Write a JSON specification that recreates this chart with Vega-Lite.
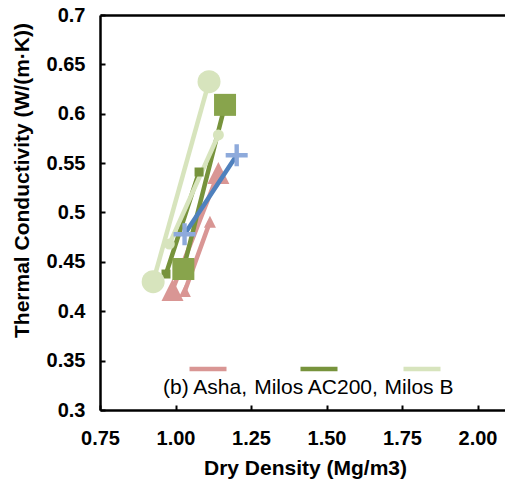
{
  "$schema": "https://vega.github.io/schema/vega-lite/v6.json",
  "width": 405,
  "height": 395,
  "autosize": {"type": "none"},
  "padding": {"left": 100, "top": 15, "right": 0, "bottom": 74},
  "background": "white",
  "config": {
    "view": {"stroke": null},
    "axis": {
      "grid": false,
      "domainColor": "black",
      "domainWidth": 2.5,
      "tickColor": "black",
      "tickWidth": 2,
      "tickSize": -5,
      "labelFont": "Liberation Sans",
      "labelFontWeight": "bold",
      "labelFontSize": 20,
      "labelColor": "black",
      "labelFlush": false,
      "titleFont": "Liberation Sans",
      "titleFontWeight": "bold",
      "titleFontSize": 21,
      "titleColor": "black"
    }
  },
  "data": {
    "values": [
      {"series": "A1", "material": "Asha", "x": 0.990, "y": 0.4215},
      {"series": "A1", "material": "Asha", "x": 1.142, "y": 0.540},
      {"series": "A2", "material": "Asha", "x": 1.031, "y": 0.4205},
      {"series": "A2", "material": "Asha", "x": 1.114, "y": 0.4907},
      {"series": "G1", "material": "Milos AC200", "x": 1.026, "y": 0.4428},
      {"series": "G1", "material": "Milos AC200", "x": 1.164, "y": 0.609},
      {"series": "G2", "material": "Milos AC200", "x": 0.9685, "y": 0.4377},
      {"series": "G2", "material": "Milos AC200", "x": 1.078, "y": 0.541},
      {"series": "B1", "material": "Milos B", "x": 0.926, "y": 0.430},
      {"series": "B1", "material": "Milos B", "x": 1.111, "y": 0.6325},
      {"series": "B2", "material": "Milos B", "x": 0.9795, "y": 0.468},
      {"series": "B2", "material": "Milos B", "x": 1.142, "y": 0.5785},
      {"series": "C1", "material": "Other", "x": 1.030, "y": 0.478},
      {"series": "C1", "material": "Other", "x": 1.2026, "y": 0.558}
    ]
  },
  "layer": [
    {
      "transform": [{"filter": "datum.series != 'C1'"}],
      "mark": {"type": "line", "strokeWidth": 4.5, "strokeCap": "round"},
      "encoding": {
        "x": {
          "field": "x", "type": "quantitative",
          "scale": {"domain": [0.75, 2.091], "nice": false, "zero": false},
          "axis": {
            "values": [0.75, 1, 1.25, 1.5, 1.75, 2],
            "format": ".2f",
            "title": "Dry Density (Mg/m3)",
            "labelPadding": 23,
            "titleX": 205,
            "titleY": 64,
            "titleBaseline": "alphabetic"
          }
        },
        "y": {
          "field": "y", "type": "quantitative",
          "scale": {"domain": [0.3, 0.7], "nice": false, "zero": false},
          "axis": {
            "values": [0.3, 0.35, 0.4, 0.45, 0.5, 0.55, 0.6, 0.65, 0.7],
            "format": ".2~f",
            "title": "Thermal Conductivity (W/(m·K))",
            "labelPadding": 20,
            "titleX": -78,
            "titleY": 165,
            "titleAngle": -90,
            "titleBaseline": "middle",
            "titleAlign": "center"
          }
        },
        "color": {
          "field": "material", "type": "nominal",
          "scale": {
            "domain": ["Asha", "Milos AC200", "Milos B", "Other"],
            "range": ["#d99694", "#77933c", "#d7e4bd", "#4f81bd"]
          },
          "legend": {
            "values": ["Asha", "Milos AC200", "Milos B"],
            "orient": "none",
            "legendX": 87,
            "legendY": 333,
            "direction": "horizontal",
            "title": null,
            "symbolType": "stroke",
            "symbolSize": 1369,
            "symbolStrokeWidth": 4.5,
            "labelFont": "Liberation Sans",
            "labelFontSize": 21,
            "labelColor": "black",
            "labelAlign": "center",
            "labelOffset": -24,
            "labelExpr": "datum.label == 'Asha' ? '(b) Asha,' : datum.label == 'Milos AC200' ? 'Milos AC200,' : datum.label",
            "columnPadding": 5,
            "padding": 0,
            "encode": {"labels": {"update": {"dy": {"value": 19}}}}
          }
        },
        "detail": {"field": "series", "type": "nominal"}
      }
    },
    {
      "transform": [{"filter": "datum.series != 'C1'"}],
      "mark": {"type": "point", "filled": true, "opacity": 1, "strokeWidth": 0},
      "encoding": {
        "x": {"field": "x", "type": "quantitative", "axis": null},
        "y": {"field": "y", "type": "quantitative"},
        "shape": {
          "field": "series", "type": "nominal", "legend": null,
          "scale": {
            "domain": ["A1", "A2", "G1", "G2", "B1", "B2"],
            "range": ["M0,-1L1,1L-1,1Z", "M0,-1L1,1L-1,1Z", "square", "square", "circle", "circle"]
          }
        },
        "size": {
          "field": "series", "type": "nominal", "legend": null,
          "scale": {
            "type": "ordinal",
            "domain": ["A1", "A2", "G1", "G2", "B1", "B2"],
            "range": [484, 144, 484, 81, 529, 121]
          }
        },
        "fill": {
          "field": "series", "type": "nominal", "legend": null,
          "scale": {
            "domain": ["A1", "A2", "G1", "G2", "B1", "B2"],
            "range": ["#d99694", "#d99694", "#88a44c", "#77933c", "#d7e4bd", "#d7e4bd"]
          }
        }
      }
    },
    {
      "transform": [{"filter": "datum.series == 'C1'"}],
      "mark": {"type": "line", "strokeWidth": 4.5, "strokeCap": "round"},
      "encoding": {
        "x": {"field": "x", "type": "quantitative", "axis": null},
        "y": {"field": "y", "type": "quantitative"},
        "color": {"field": "material", "type": "nominal"},
        "detail": {"field": "series", "type": "nominal"}
      }
    },
    {
      "transform": [{"filter": "datum.series == 'C1'"}],
      "mark": {
        "type": "point", "filled": true, "opacity": 1, "strokeWidth": 0,
        "shape": "M-1,-0.2L1,-0.2L1,0.2L-1,0.2ZM-0.2,-1L0.2,-1L0.2,1L-0.2,1Z",
        "size": 484,
        "fill": "#8eaadb"
      },
      "encoding": {
        "x": {
          "field": "x", "type": "quantitative",
          "axis": {"orient": "top", "labels": false, "ticks": false, "title": null, "domain": true}
        },
        "y": {"field": "y", "type": "quantitative"}
      }
    }
  ],
  "resolve": {"axis": {"x": "independent"}}
}
